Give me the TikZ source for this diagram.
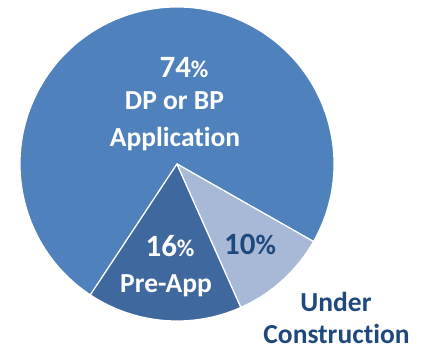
\documentclass[tikz,border=0pt]{standalone}
\usepackage{fontspec}
\setmainfont[Ligatures={NoCommon,NoContextual}]{Carlito}
\definecolor{bigblue}{HTML}{4F81BD}
\definecolor{preblue}{HTML}{3F689E}
\definecolor{lightblue}{HTML}{A7B9D7}
\definecolor{darktext}{HTML}{1F497D}
\tikzset{
  slice/.style={draw=white,line width=1.2pt,line join=round},
  lbl/.style={inner sep=0pt,anchor=base,font=\bfseries\fontsize{27.5}{30}\selectfont},
  num/.style={inner sep=0pt,anchor=base,font=\bfseries\fontsize{31}{34}\selectfont},
}
\newcommand{\pct}{{\fontsize{24}{26}\selectfont\%}}
\begin{document}
\begin{tikzpicture}[x=1pt,y=1pt]
\useasboundingbox (0,0) rectangle (427,350);
\coordinate (c) at (177,186);
\fill[bigblue,slice] (c) -- ++(330.4:157) arc[start angle=330.4,end angle=596.5,radius=157] -- cycle;
\fill[preblue,slice] (c) -- ++(236.5:157) arc[start angle=236.5,end angle=294,radius=157] -- cycle;
\fill[lightblue,slice] (c) -- ++(294:157) arc[start angle=294,end angle=330.4,radius=157] -- cycle;
\node[num,white] (p74) at (184,272) {74\pct};
\node[lbl,white] (dp) at (174.5,240) {DP or BP};
\node[lbl,white] (app) at (175,203) {Application};
\node[num,white] (p16) at (170,93) {16\pct};
\node[lbl,white] (pre) at (166,58) {Pre-App};
\node[num,darktext] (p10) at (250,95) {10{\fontsize{28}{30}\selectfont\%}};
\node[lbl,darktext] (under) at (336,38.5) {Under};
\node[lbl,darktext] (cons) at (336.5,7) {Construction};
\end{tikzpicture}
\end{document}
